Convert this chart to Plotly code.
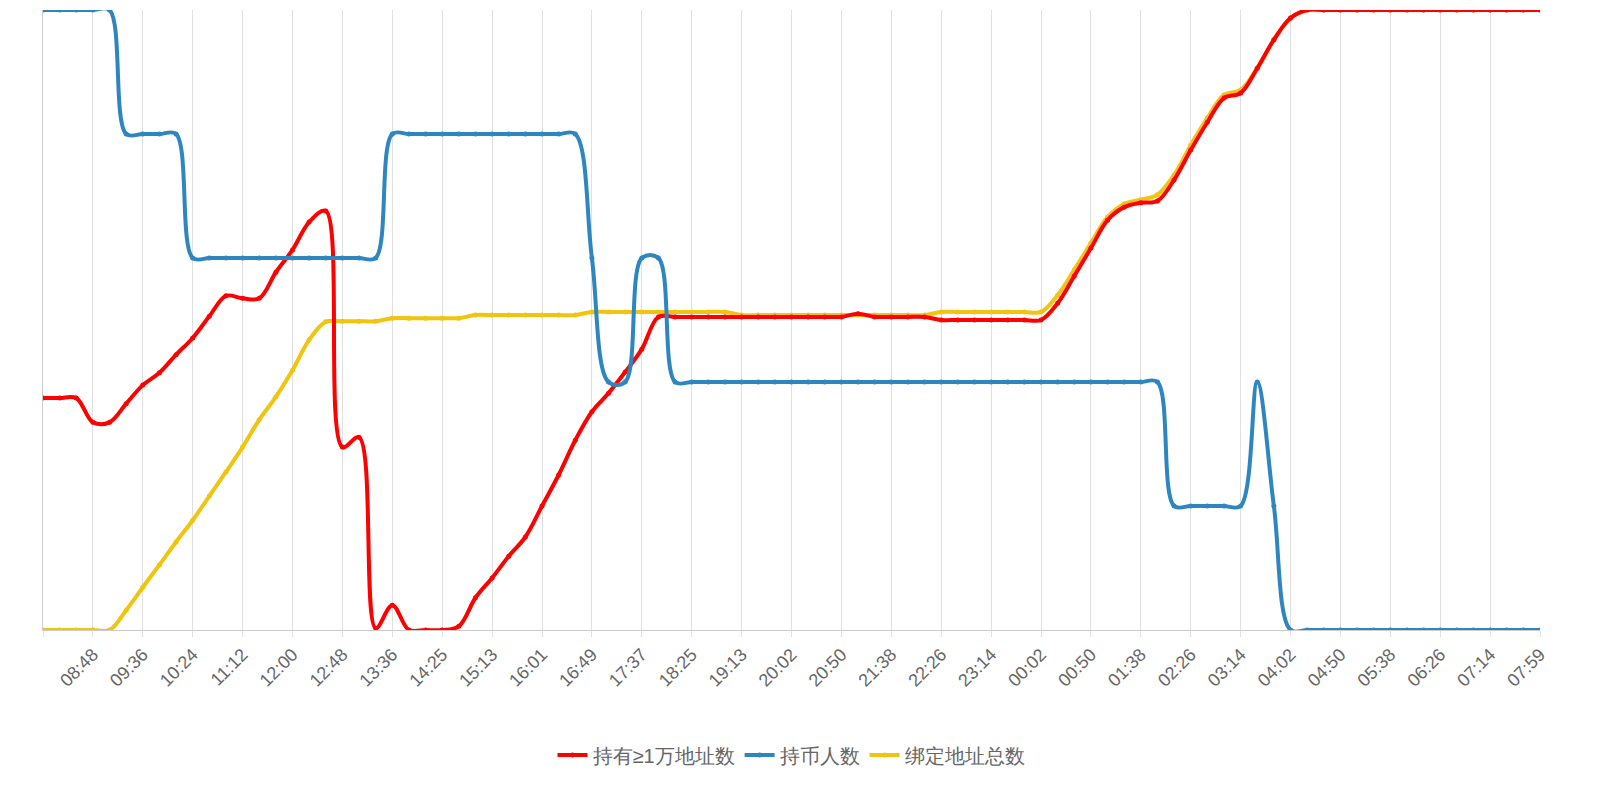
import plotly.graph_objects as go

tick_labels = ["08:00","08:48","09:36","10:24","11:12","12:00","12:48","13:36","14:25","15:13",
               "16:01","16:49","17:37","18:25","19:13","20:02","20:50","21:38","22:26","23:14",
               "00:02","00:50","01:38","02:26","03:14","04:02","04:50","05:38","06:26","07:14","07:59"]
idx = list(range(91))

holders = [5,5,5,5,5,4,4,4,4,3,3,3,3,3,3,3,3,3,3,3,3,4,4,4,4,4,4,4,4,4,4,4,4,3,2,2,3,3,
           2,2,2,2,2,2,2,2,2,2,2,2,2,2,2,2,2,2,2,2,2,2,2,2,2,2,2,2,2,2,1,1,1,1,1,2,1,
           0,0,0,0,0,0,0,0,0,0,0,0,0,0,0,0]

red_px = [398,398,398,422,422,404,385,373,355,338,316,296,298,298,272,250,222,211,447,437,628,605,
          630,630,630,626,598,578,556,537,506,475,440,412,393,372,349,317,317,317,317,317,317,317,
          317,317,317,317,317,314,317,317,317,317,320,320,320,320,320,320,320,303,276,248,220,207,
          203,201,180,150,122,98,93,68,40,18,10,10,10,10,10,10,10,10,10,10,10,10,10,10,10]
yel_px = [630,630,630,630,630,610,587,565,542,520,496,472,447,420,397,370,340,322,321,321,321,318,
          318,318,318,318,315,315,315,315,315,315,315,312,312,312,312,312,312,312,312,312,315,315,
          315,315,315,315,315,315,315,315,315,315,312,312,312,312,312,312,312,295,270,243,217,204,
          200,195,175,145,118,95,90,68,40,18,10,10,10,10,10,10,10,10,10,10,10,10,10,10,10]
big_addr = [round((630 - v) / 6.2, 1) for v in red_px]
bound_addr = [round((630 - v) / 6.2, 1) for v in yel_px]

fig = go.Figure()
def add(y, name, color, axis):
    fig.add_trace(go.Scatter(x=idx, y=y, name=name, mode="lines+markers", line_shape="spline",
                             line=dict(color=color, width=4), yaxis=axis,
                             marker=dict(size=5, color=color)))
add(bound_addr, "绑定地址总数", "#f1c40f", "y")
add(holders, "持币人数", "#2e86c1", "y2")
add(big_addr, "持有≥1万地址数", "#ff0000", "y")

fig.update_layout(
    width=1584, height=784, plot_bgcolor="white", paper_bgcolor="white",
    margin=dict(l=35, r=52, t=2, b=162, autoexpand=False),
    font=dict(family="Liberation Sans, Arial", size=18, color="#666"),
    xaxis=dict(tickvals=idx[::3], ticktext=tick_labels, tickangle=-45, automargin=False,
               showgrid=True, gridcolor="#e0e0e0", showline=True, linecolor="#ccc",
               ticks="outside", tickcolor="#e0e0e0", ticklen=6, range=[0, 90], zeroline=False),
    yaxis=dict(range=[0, 100], showgrid=False, showticklabels=False, zeroline=False,
               showline=True, linecolor="#ccc"),
    yaxis2=dict(range=[0, 5], overlaying="y", showgrid=False, showticklabels=False, zeroline=False),
    legend=dict(orientation="h", x=0.5, xanchor="center", y=-0.17, yanchor="top",
                traceorder="reversed", font=dict(size=20)),
)
fig.write_html("out.html")
